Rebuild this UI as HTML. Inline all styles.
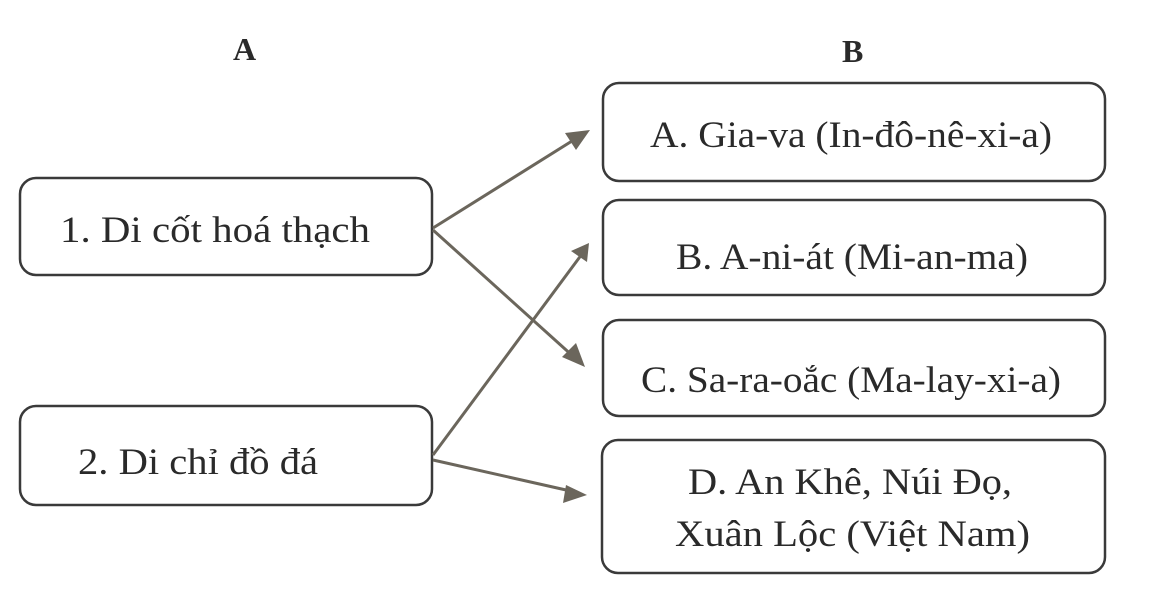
<!DOCTYPE html>
<html><head><meta charset="utf-8"><style>
html,body{margin:0;padding:0;background:#fff;}
svg{display:block}
text{font-family:"Liberation Serif",serif;fill:#2a2a2a;font-size:37px}
</style></head><body>
<svg width="1171" height="598" viewBox="0 0 1171 598">
<text x="233" y="60" style="font-weight:bold;font-size:32px">A</text>
<text x="842" y="62" style="font-weight:bold;font-size:32px">B</text>
<g fill="none" stroke="#3a3a3a" stroke-width="2.5">
<rect x="20" y="178" width="412" height="97" rx="16"/>
<rect x="20" y="406" width="412" height="99" rx="16"/>
<rect x="603" y="83" width="502" height="98" rx="16"/>
<rect x="603" y="200" width="502" height="95" rx="16"/>
<rect x="603" y="320" width="502" height="96" rx="16"/>
<rect x="602" y="440" width="503" height="133" rx="16"/>
</g>
<text x="60" y="242" textLength="310" lengthAdjust="spacingAndGlyphs">1. Di cốt hoá thạch</text>
<text x="78" y="474" textLength="240" lengthAdjust="spacingAndGlyphs">2. Di chỉ đồ đá</text>
<text x="650" y="147" textLength="402" lengthAdjust="spacingAndGlyphs">A. Gia-va (In-đô-nê-xi-a)</text>
<text x="676" y="269" textLength="352" lengthAdjust="spacingAndGlyphs">B. A-ni-át (Mi-an-ma)</text>
<text x="641" y="392" textLength="420" lengthAdjust="spacingAndGlyphs">C. Sa-ra-oắc (Ma-lay-xi-a)</text>
<text x="688" y="494" textLength="324" lengthAdjust="spacingAndGlyphs">D. An Khê, Núi Đọ,</text>
<text x="675" y="546" textLength="355" lengthAdjust="spacingAndGlyphs">Xuân Lộc (Việt Nam)</text>
<g stroke="#6b665c" stroke-width="3" fill="none">
<line x1="433" y1="228" x2="580" y2="136"/>
<line x1="433" y1="230" x2="575" y2="358"/>
<line x1="433" y1="455" x2="582" y2="254"/>
<line x1="433" y1="460" x2="575" y2="492"/>
</g>
<g fill="#6b665c">
<polygon points="590,130 565,133 576,150"/>
<polygon points="585,367 562,357 576,343"/>
<polygon points="589,243 571,251 587,262"/>
<polygon points="587,495 566,485 563,503"/>
</g>
</svg>
</body></html>
